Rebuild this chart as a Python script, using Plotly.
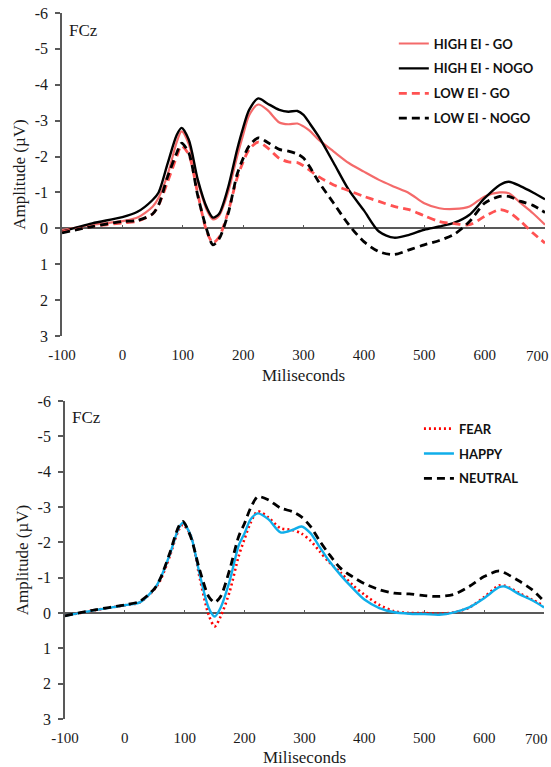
import plotly.graph_objects as go

# ---------------- data: top panel (EI x GO/NOGO) ----------------
t_top = [-100, -50, 0, 25, 50, 60, 75, 90, 98, 110, 125, 140, 150, 160, 175, 190, 200, 210, 225, 240,
         260, 275, 290, 300, 310, 325, 350, 375, 400, 425, 450, 475, 500, 525, 550, 575, 600, 625,
         640, 660, 680, 700]
high_go = [0.05, -0.10, -0.20, -0.30, -0.60, -0.85, -1.50, -2.40, -2.70, -2.35, -1.30, -0.50, -0.25, -0.35, -1.00, -2.00,
           -2.60, -3.15, -3.45, -3.30, -2.95, -2.90, -2.92, -2.84, -2.72, -2.47, -2.14, -1.82, -1.58, -1.35, -1.16,
           -0.98, -0.70, -0.56, -0.54, -0.61, -0.89, -1.00, -0.98, -0.70, -0.42, -0.10]
high_nogo = [0.09, -0.14, -0.31, -0.46, -0.79, -1.00, -1.81, -2.60, -2.80, -2.47, -1.35, -0.57, -0.30, -0.40, -1.13, -2.19,
             -2.80, -3.30, -3.62, -3.48, -3.30, -3.25, -3.27, -3.16, -2.93, -2.56, -1.82, -1.07, -0.50, 0.09, 0.26,
             0.18, 0.04, -0.05, -0.16, -0.38, -0.84, -1.21, -1.30, -1.17, -1.00, -0.81]
low_go = [0.10, -0.05, -0.15, -0.20, -0.40, -0.65, -1.30, -2.00, -2.30, -2.05, -0.95, 0.10, 0.40, 0.25, -0.45, -1.40,
          -1.85, -2.20, -2.40, -2.25, -1.95, -1.85, -1.83, -1.74, -1.62, -1.44, -1.21, -1.05, -0.89, -0.75, -0.61,
          -0.52, -0.35, -0.19, -0.13, -0.10, -0.33, -0.52, -0.45, -0.19, 0.13, 0.41]
low_nogo = [0.13, -0.05, -0.19, -0.22, -0.40, -0.65, -1.44, -2.10, -2.37, -2.10, -0.90, 0.05, 0.46, 0.30, -0.40, -1.50,
            -1.95, -2.30, -2.52, -2.40, -2.20, -2.15, -2.07, -1.96, -1.72, -1.30, -0.70, -0.10, 0.37, 0.65, 0.73,
            0.60, 0.46, 0.34, 0.16, -0.19, -0.70, -0.89, -0.89, -0.75, -0.64, -0.44]

# ---------------- data: bottom panel (emotions) ----------------
t_bot = [-100, -50, 0, 25, 50, 60, 75, 90, 97, 110, 125, 140, 150, 160, 175, 190, 200, 210, 222, 240,
         260, 280, 295, 310, 325, 340, 360, 380, 400, 425, 450, 475, 500, 525, 550, 575, 600, 625,
         635, 660, 680, 700]
fear = [0.08, -0.08, -0.22, -0.30, -0.68, -0.95, -1.60, -2.35, -2.50, -2.20, -1.00, 0.05, 0.38, 0.10, -0.60, -1.60,
        -2.10, -2.55, -2.88, -2.70, -2.40, -2.35, -2.25, -2.05, -1.75, -1.46, -1.15, -0.80, -0.52, -0.23, -0.05,
        0.00, 0.00, 0.02, -0.02, -0.15, -0.45, -0.78, -0.77, -0.55, -0.38, -0.20]
happy = [0.08, -0.08, -0.22, -0.30, -0.70, -1.00, -1.65, -2.40, -2.55, -2.20, -1.10, -0.15, 0.10, -0.15, -0.90, -1.90,
         -2.26, -2.65, -2.82, -2.65, -2.28, -2.35, -2.45, -2.26, -1.88, -1.50, -1.08, -0.71, -0.38, -0.14, -0.02,
         0.02, 0.03, 0.05, -0.02, -0.16, -0.42, -0.73, -0.75, -0.52, -0.36, -0.16]
neutral = [0.08, -0.09, -0.23, -0.33, -0.70, -1.00, -1.69, -2.45, -2.59, -2.16, -1.22, -0.47, -0.30, -0.47, -1.22, -2.16,
           -2.54, -2.97, -3.29, -3.20, -2.97, -2.87, -2.72, -2.45, -2.05, -1.69, -1.27, -1.03, -0.83, -0.66, -0.56,
           -0.54, -0.49, -0.47, -0.53, -0.75, -1.03, -1.19, -1.13, -0.89, -0.66, -0.33]

y_ticks = [-6, -5, -4, -3, -2, -1, 0, 1, 2, 3]
y_tick_labels = ["-6", "-5", "-4", "-3", "-2", "-1", "0", "1", "2", "3"]
x_ticks = [-100, 0, 100, 200, 300, 400, 500, 600, 700]
x_tick_labels = ["-100", "0", "100", "200", "300", "400", "500", "600", "700"]

TOP_DOM = [0.5425, 1.0]
BOT_DOM = [0.0, 0.4504]
AXCOL = "#595959"
TXT = "#1a1a1a"
SERIF = "Liberation Serif"
LEGFONT = dict(family="Lato", size=13, color="#111111", weight="bold")
XFONT = dict(family=SERIF, size=15, color=TXT)

fig = go.Figure()

def add(x, y, name, color, dash, width, xa, ya, legend):
    fig.add_trace(go.Scatter(
        x=x, y=y, name=name, mode="lines",
        line=dict(color=color, dash=dash, width=width, shape="spline", smoothing=0.8),
        xaxis=xa, yaxis=ya, legend=legend, legendgroup=name))

add(t_top, high_go, "HIGH EI - GO", "#F46A6A", "solid", 2.2, "x", "y", "legend")
add(t_top, high_nogo, "HIGH EI - NOGO", "#000000", "solid", 2.4, "x", "y", "legend")
add(t_top, low_go, "LOW EI - GO", "#FF5252", "8px,5px", 2.8, "x", "y", "legend")
add(t_top, low_nogo, "LOW EI - NOGO", "#000000", "8px,5px", 2.8, "x", "y", "legend")

add(t_bot, fear, "FEAR", "#FF0000", "2px,3px", 2.6, "x2", "y2", "legend2")
add(t_bot, happy, "HAPPY", "#10AEEA", "solid", 2.4, "x2", "y2", "legend2")
add(t_bot, neutral, "NEUTRAL", "#000000", "8px,5px", 2.8, "x2", "y2", "legend2")

# invisible single-point traces so that the zero-line tick axes get drawn
for xa, ya in (("x3", "y"), ("x4", "y2")):
    fig.add_trace(go.Scatter(x=x_ticks[:1], y=[0], mode="lines", xaxis=xa, yaxis=ya,
                             showlegend=False, hoverinfo="skip", line=dict(width=0)))

xcommon = dict(range=[-100, 700], tickvals=x_ticks[:-1], ticktext=x_tick_labels[:-1], showline=False, ticks="",
               showgrid=False, zeroline=False, automargin=False, ticklabeloverflow="allow",
               ticklabelstandoff=8, tickfont=XFONT,
               title=dict(text="Miliseconds", font=dict(family=SERIF, size=17, color=TXT), standoff=7))
ycommon = dict(range=[3, -6], tickvals=y_ticks, ticktext=y_tick_labels, showline=True, linecolor=AXCOL,
               linewidth=1.5, ticks="outside", ticklen=5, tickcolor=AXCOL, tickwidth=1.5, showgrid=False,
               zeroline=True, zerolinecolor=AXCOL, zerolinewidth=1.5, automargin=False,
               ticklabelstandoff=4, ticklabeloverflow="allow",
               tickfont=dict(family=SERIF, size=16, color=TXT),
               title=dict(text="Amplitude (\u00b5V)", font=dict(family=SERIF, size=17, color=TXT), standoff=5))

def zero_pos(dom):
    # fraction of the reversed range [3, -6] where 0 lies
    return dom[0] + (dom[1] - dom[0]) * (3 - 0) / (3 - (-6))

tickaxis = dict(anchor="free", range=[-100, 700], tickvals=x_ticks, ticks="inside", ticklen=3,
                tickcolor=AXCOL, tickwidth=1.2, showticklabels=False, showline=False, showgrid=False,
                zeroline=False, automargin=False)

# the last x label sits a little left of its tick, as in the original
last_labels = [
    dict(text=x_tick_labels[-1], x=x_ticks[-1], xref=xr, y=0, yref=yr, xanchor="center", yanchor="top",
         xshift=-8, yshift=-10, showarrow=False, font=XFONT)
    for xr, yr in (("x", "y domain"), ("x2", "y2 domain"))
]

fig.update_layout(
    width=551, height=767,
    margin=dict(l=62, r=6, t=13, b=48),
    paper_bgcolor="white", plot_bgcolor="white",
    xaxis=dict(domain=[0, 1], anchor="y", **xcommon),
    yaxis=dict(domain=TOP_DOM, anchor="x", **ycommon),
    xaxis2=dict(domain=[0.006, 0.998], anchor="y2", **xcommon),
    yaxis2=dict(domain=BOT_DOM, anchor="x2", **ycommon),
    # tick marks sitting on the zero lines
    xaxis3=dict(overlaying="x", position=zero_pos(TOP_DOM), **tickaxis),
    xaxis4=dict(overlaying="x2", position=zero_pos(BOT_DOM), **tickaxis),
    legend=dict(x=0.687, y=0.978, xanchor="left", yanchor="top", font=LEGFONT, bgcolor="rgba(0,0,0,0)",
                itemwidth=30, tracegroupgap=5),
    legend2=dict(x=0.739, y=0.4325, xanchor="left", yanchor="top", font=LEGFONT, bgcolor="rgba(0,0,0,0)",
                 itemwidth=30, tracegroupgap=5),
    showlegend=True,
    annotations=[
        dict(text="FCz", xref="x domain", yref="y domain", x=0.0, y=1.0, xshift=5, yshift=-6,
             xanchor="left", yanchor="top", showarrow=False, font=dict(family=SERIF, size=17, color=TXT)),
        dict(text="FCz", xref="x2 domain", yref="y2 domain", x=0.0, y=1.0, xshift=5, yshift=-5,
             xanchor="left", yanchor="top", showarrow=False, font=dict(family=SERIF, size=17, color=TXT)),
    ] + last_labels,
)

# remove the page's default 8px body margin so the figure fills the window exactly
fig.write_html("out.html", config={"displayModeBar": False},
               post_script="document.body.style.margin='0px';")
